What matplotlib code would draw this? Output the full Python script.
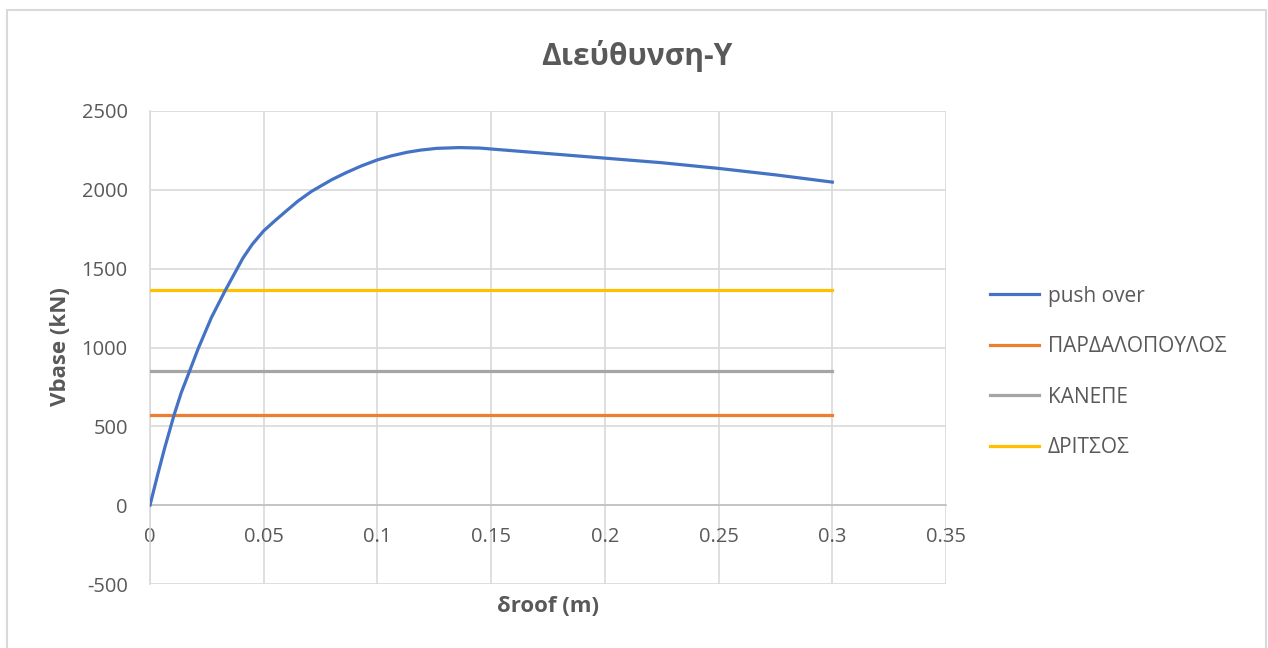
import numpy as np
import matplotlib
matplotlib.use('Agg')
import matplotlib.pyplot as plt
from matplotlib.patches import Rectangle

plt.rcParams['font.family'] = ['Open Sans', 'DejaVu Sans']
plt.rcParams['axes.unicode_minus'] = False

# push over curve
droof = [0, 0.0034, 0.0064, 0.0105, 0.0137, 0.0174, 0.0211, 0.027, 0.0331, 0.0387,
         0.0409, 0.045, 0.05, 0.055, 0.06, 0.065, 0.071, 0.08, 0.0864, 0.093,
         0.1, 0.106, 0.113, 0.119, 0.126, 0.136, 0.145, 0.15, 0.175, 0.2,
         0.225, 0.25, 0.275, 0.3]
vbase = [0, 195, 360, 568, 712, 850, 990, 1190, 1362, 1510,
         1568, 1655, 1740, 1805, 1867, 1928, 1990, 2065, 2110, 2152,
         2190, 2215, 2238, 2252, 2263, 2268, 2265, 2259, 2230, 2201,
         2172, 2136, 2095, 2049]

# horizontal reference lines
ref_x = [0, 0.3]
pardalopoulos = 570
kanepe = 848
dritsos = 1364

blue = '#4472C4'
orange = '#ED7D31'
gray = '#A5A5A5'
yellow = '#FFC000'
txt = '#595959'
grid = '#D9D9D9'

fig = plt.figure(figsize=(12.68, 6.48), dpi=100)
ax = fig.add_axes([150/1268, 1-584/648, (946-150)/1268, (584-111)/648])

ax.plot(droof, vbase, color=blue, lw=2.3, label='push over', zorder=5,
        solid_joinstyle='round')
ax.plot(ref_x, [pardalopoulos]*2, color=orange, lw=2.3, label='ΠΑΡΔΑΛΟΠΟΥΛΟΣ', zorder=4)
ax.plot(ref_x, [kanepe]*2, color=gray, lw=2.3, label='ΚΑΝΕΠΕ', zorder=4)
ax.plot(ref_x, [dritsos]*2, color=yellow, lw=2.3, label='ΔΡΙΤΣΟΣ', zorder=4)

ax.set_xlim(0, 0.35)
ax.set_ylim(-500, 2500)
ax.set_xticks(np.arange(0, 0.351, 0.05))
ax.set_xticklabels(['0', '0.05', '0.1', '0.15', '0.2', '0.25', '0.3', '0.35'])
ax.set_yticks(np.arange(-500, 2501, 500))
ax.grid(True, color=grid, lw=1.2, zorder=0)
ax.set_axisbelow(True)

for s in ['top', 'right']:
    ax.spines[s].set_visible(False)
ax.spines['left'].set_color(grid)
ax.spines['left'].set_linewidth(1.2)
ax.spines['bottom'].set_position(('data', 0))
ax.spines['bottom'].set_color('#BFBFBF')
ax.spines['bottom'].set_linewidth(1.2)
ax.tick_params(axis='both', length=0, labelsize=14.5, labelcolor=txt)
ax.tick_params(axis='x', pad=16)
ax.tick_params(axis='y', pad=16)

fig.text(637/1268, 1-56/648, 'Διεύθυνση-Υ', ha='center', va='center',
         fontsize=21.5, fontweight='bold', color=txt)
fig.text(60/1268, 1-347/648, 'Vbase (kN)', ha='center', va='center', rotation=90,
         fontsize=16, fontweight='bold', color=txt)
fig.text(548/1268, 1-607/648, 'δroof (m)', ha='center', va='center',
         fontsize=16, fontweight='bold', color=txt)

ax.legend(loc='center left', bbox_to_anchor=(990/1268, 1-372/648),
          bbox_transform=fig.transFigure, frameon=False, fontsize=15,
          handlelength=2.35, handletextpad=0.43, labelspacing=1.42,
          borderpad=0, borderaxespad=0, labelcolor=txt)

fig.patches.append(Rectangle((7/1268, -0.02), (1266-7)/1268, 1.02-10/648,
                             transform=fig.transFigure, fill=False,
                             edgecolor=grid, lw=1.5))

fig.savefig('out.png', dpi=100)
